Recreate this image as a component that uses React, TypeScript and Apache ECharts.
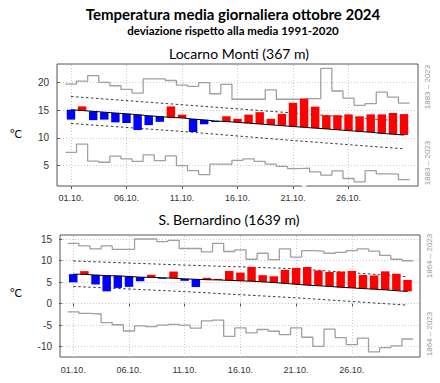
import React, { useEffect, useRef } from "react";
import * as echarts from "echarts";

// ---- shared axis data ----
const dayNums = Array.from({ length: 31 }, (_, i) => i + 1);
const xTickDays = [1, 6, 11, 16, 21, 26];
const xTickLabels = ["01.10.", "06.10.", "11.10.", "16.10.", "21.10.", "26.10."];

// ---- Locarno Monti (367 m) ----
const locYTicks = [5, 10, 15, 20];
const locActual = [13.3, 15.7, 13.2, 13.3, 12.8, 12.7, 11.4, 12.3, 12.9, 15.7, 14.2, 11.05, 12.45, 12.9, 13.9, 13.45, 14.2, 14.65, 13.45, 14.35, 16.35, 17.1, 15.65, 14.1, 14.1, 14.25, 13.9, 14.25, 14.25, 14.5, 14.3];
const locMean = [15.1, 14.95, 14.8, 14.65, 14.5, 14.35, 14.2, 14.0, 13.85, 13.7, 13.6, 13.4, 13.25, 13.05, 12.95, 12.8, 12.65, 12.5, 12.35, 12.2, 12.05, 11.9, 11.75, 11.6, 11.45, 11.3, 11.15, 11.0, 10.8, 10.65, 10.5];
const locMax = [19.75, 20.3, 21.3, 20.05, 19.45, 18.8, 18.1, 20.7, 20.7, 20.4, 19.55, 19.35, 20.0, 18.0, 19.7, 17.0, 17.0, 17.0, 18.7, 17.0, 17.0, 17.1, 17.1, 22.6, 18.5, 17.2, 15.9, 16.2, 18.3, 17.4, 16.3];
const locMin = [7.35, 8.85, 5.75, 5.55, 6.65, 6.15, 5.7, 6.9, 5.85, 6.7, 4.95, 4.05, 3.3, 5.2, 5.2, 5.9, 6.15, 5.7, 5.2, 4.8, 4.4, 4.5, 3.8, 3.2, 4.0, 2.6, 2.0, 4.05, 3.45, 3.4, 2.4];
const locBandHigh = [[1, 17.5], [11, 16.0], [21, 14.5], [31, 13.0]];
const locBandLow = [[1, 12.6], [11, 11.15], [21, 9.5], [31, 8.0]];
const locOutlier = [[22, 1.7]];

// ---- S. Bernardino (1639 m) ----
const berYTicks = [-10, -5, 0, 5, 10, 15];
const berActual = [4.95, 7.55, 4.45, 2.85, 3.65, 3.9, 5.2, 6.7, 5.8, 7.45, 5.3, 3.85, 6.0, 5.75, 7.6, 7.2, 8.5, 6.6, 6.35, 7.85, 8.3, 8.5, 7.7, 7.35, 7.45, 7.6, 6.65, 6.55, 7.5, 6.95, 5.5];
const berMean = [6.85, 6.8, 6.65, 6.5, 6.45, 6.3, 6.15, 6.1, 6.0, 5.9, 5.75, 5.65, 5.55, 5.5, 5.4, 5.3, 5.2, 5.05, 4.9, 4.7, 4.5, 4.3, 4.15, 4.0, 3.8, 3.65, 3.5, 3.35, 3.2, 3.0, 2.85];
const berMax = [14.0, 13.4, 12.7, 13.4, 12.6, 12.6, 15.0, 15.0, 14.4, 14.7, 12.8, 12.8, 12.0, 14.0, 12.1, 12.5, 10.3, 11.7, 10.2, 12.7, 10.8, 12.3, 12.2, 11.7, 11.9, 12.3, 12.7, 12.2, 11.2, 10.3, 9.95];
const berMin = [-1.9, -2.25, -2.4, -4.4, -4.9, -6.35, -5.15, -5.35, -5.0, -4.8, -5.0, -5.7, -4.0, -3.8, -7.6, -5.6, -6.8, -6.0, -6.4, -7.2, -5.6, -7.8, -9.9, -5.9, -7.9, -9.5, -8.0, -11.2, -10.2, -9.8, -8.2];
const berBandHigh = [[1, 9.9], [11, 8.95], [21, 8.1], [31, 6.25]];
const berBandLow = [[1, 4.0], [11, 2.8], [21, 1.35], [31, -0.35]];

const TEXT_FONT = "Lato, 'Open Sans', sans-serif";
const AXIS_FONT = "'Liberation Sans', Arial, sans-serif";
const RED = "#ff0000";
const BLUE = "#0000ff";
const STEP_GRAY = "#a0a0a0";

function stepData(vals: number[]) {
  const d = vals.map((v, i) => [dayNums[i] - 0.5, v]);
  d.push([dayNums[vals.length - 1] + 0.5, vals[vals.length - 1]]);
  return d;
}

function mkX(gi: number, min: number, max: number, margin: number) {
  return {
    type: "value",
    gridIndex: gi,
    min,
    max,
    axisLine: { show: false },
    axisTick: { show: true, customValues: xTickDays, length: 3, lineStyle: { color: "#555" } },
    axisLabel: {
      customValues: xTickDays,
      formatter: (v: number) => {
        const k = xTickDays.indexOf(Math.round(v));
        return k >= 0 ? xTickLabels[k] : "";
      },
      fontSize: 9,
      color: "#333",
      margin,
      fontFamily: AXIS_FONT,
    },
    splitLine: { show: false },
  };
}

function mkY(gi: number, min: number, max: number, ticks: number[]) {
  return {
    type: "value",
    gridIndex: gi,
    min,
    max,
    axisLine: { show: false },
    axisTick: { show: true, customValues: ticks, length: 3, lineStyle: { color: "#555" } },
    axisLabel: { customValues: ticks, fontSize: 10, color: "#333", margin: 8, fontFamily: AXIS_FONT },
    splitLine: { show: false },
  };
}

function gridLines(gi: number, yTicks: number[]) {
  return {
    type: "line",
    xAxisIndex: gi,
    yAxisIndex: gi,
    data: [],
    silent: true,
    z: 0,
    markLine: {
      silent: true,
      z: 0,
      symbol: "none",
      label: { show: false },
      lineStyle: { color: "#c8c8c8", type: [1, 2], width: 1 },
      data: [...yTicks.map((v) => ({ yAxis: v })), ...xTickDays.map((d) => ({ xAxis: d }))],
    },
  };
}

function bars(gi: number, mean: number[], actual: number[]) {
  return {
    type: "custom",
    xAxisIndex: gi,
    yAxisIndex: gi,
    z: 3,
    data: actual.map((a, i) => [dayNums[i], mean[i], a]),
    encode: { x: 0, y: [1, 2] },
    renderItem: (params: any, api: any) => {
      const d = api.value(0);
      const m = api.value(1);
      const a = api.value(2);
      const p1 = api.coord([d - 0.38, Math.max(m, a)]);
      const p2 = api.coord([d + 0.38, Math.min(m, a)]);
      return {
        type: "rect",
        shape: { x: p1[0], y: p1[1], width: p2[0] - p1[0], height: Math.max(1, p2[1] - p1[1]) },
        style: { fill: a >= m ? RED : BLUE },
      };
    },
  };
}

function lines(gi: number, mean: number[], max: number[], min: number[], hi: number[][], lo: number[][]) {
  return [
    {
      type: "line", xAxisIndex: gi, yAxisIndex: gi, step: "end", data: stepData(max),
      symbol: "none", lineStyle: { color: STEP_GRAY, width: 1.3 }, z: 2, silent: true,
    },
    {
      type: "line", xAxisIndex: gi, yAxisIndex: gi, step: "end", data: stepData(min),
      symbol: "none", lineStyle: { color: STEP_GRAY, width: 1.3 }, z: 2, silent: true,
    },
    {
      type: "line", xAxisIndex: gi, yAxisIndex: gi, data: hi, symbol: "none",
      lineStyle: { color: "#222", width: 0.9, type: [2.5, 2.5] }, z: 2, silent: true,
    },
    {
      type: "line", xAxisIndex: gi, yAxisIndex: gi, data: lo, symbol: "none",
      lineStyle: { color: "#222", width: 0.9, type: [2.5, 2.5] }, z: 2, silent: true,
    },
    {
      type: "line", xAxisIndex: gi, yAxisIndex: gi, data: mean.map((v, i) => [dayNums[i], v]), symbol: "none",
      lineStyle: { color: "#000", width: 1 }, z: 4, silent: true,
    },
  ];
}

function txt(x: number, y: number, text: string, fontSize: number, fontWeight = "normal", fill = "#000", rotation = 0, fontFamily = TEXT_FONT) {
  return {
    type: "text",
    x,
    y,
    rotation,
    silent: true,
    style: { text, fontSize, fontWeight, fill, fontFamily, align: "center", verticalAlign: "middle" },
  };
}

export default function App() {
  const ref = useRef<HTMLDivElement>(null);
  useEffect(() => {
    if (!ref.current) return;
    const chart = echarts.init(ref.current, null, { renderer: "svg" });
    const option: any = {
      animation: false,
      backgroundColor: "#ffffff",
      grid: [
        { left: 57, top: 64, width: 361, height: 122, show: true, borderColor: "#555", borderWidth: 1, backgroundColor: "transparent" },
        { left: 60, top: 235, width: 360, height: 122, show: true, borderColor: "#555", borderWidth: 1, backgroundColor: "transparent" },
      ],
      xAxis: [mkX(0, -0.26, 32.26, 7), mkX(1, -0.19, 32.12, 8)],
      yAxis: [mkY(0, 1.24, 23.4, locYTicks), mkY(1, -12.38, 15.93, berYTicks)],
      graphic: [
        txt(233, 14, "Temperatura media giornaliera ottobre 2024", 15, "bold"),
        txt(233, 30, "deviazione rispetto alla media 1991-2020", 11.5, "bold"),
        txt(239, 53, "Locarno Monti (367 m)", 14),
        txt(229, 219, "S. Bernardino (1639 m)", 14),
        txt(16, 133, "°C", 11),
        txt(16, 292, "°C", 11),
        txt(427, 87, "1883 – 2023", 8, "normal", "#999", Math.PI / 2, AXIS_FONT),
        txt(427, 163, "1883 – 2023", 8, "normal", "#999", Math.PI / 2, AXIS_FONT),
        txt(429, 256, "1864 – 2023", 8, "normal", "#999", Math.PI / 2, AXIS_FONT),
        txt(429, 334, "1864 – 2023", 8, "normal", "#999", Math.PI / 2, AXIS_FONT),
      ],
      series: [
        gridLines(0, locYTicks),
        gridLines(1, berYTicks),
        ...lines(0, locMean, locMax, locMin, locBandHigh, locBandLow),
        ...lines(1, berMean, berMax, berMin, berBandHigh, berBandLow),
        bars(0, locMean, locActual),
        bars(1, berMean, berActual),
        {
          type: "scatter", xAxisIndex: 0, yAxisIndex: 0, data: locOutlier, symbol: "emptyCircle",
          symbolSize: 5, itemStyle: { color: "#fff", borderColor: "#777", borderWidth: 1 }, z: 3, silent: true,
        },
      ],
    };
    chart.setOption(option);
    return () => chart.dispose();
  }, []);
  return <div ref={ref} style={{ position: "absolute", left: 0, top: 0, width: 440, height: 383 }} />;
}
